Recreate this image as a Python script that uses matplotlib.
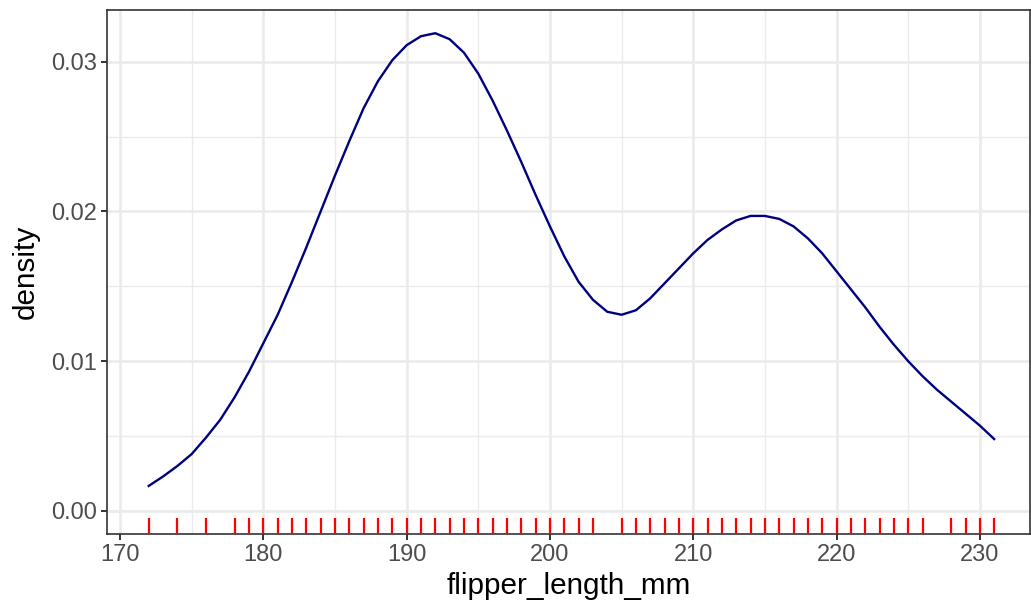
import matplotlib
matplotlib.use("Agg")
import matplotlib.pyplot as plt
from matplotlib.ticker import MultipleLocator

# density curve (flipper_length_mm, density)
flipper = list(range(172, 232))
density = [0.00167, 0.0023, 0.0030, 0.0038, 0.0049, 0.0061, 0.0076, 0.0093,
           0.0112, 0.0131, 0.0153, 0.0176, 0.0200, 0.0224, 0.0247, 0.0269,
           0.0287, 0.0301, 0.0311, 0.0317, 0.0319, 0.0315, 0.0306, 0.0292,
           0.0274, 0.0254, 0.0233, 0.0211, 0.0190, 0.0170, 0.0153, 0.0141,
           0.0133, 0.0131, 0.0134, 0.0142, 0.0152, 0.0162, 0.0172, 0.0181,
           0.0188, 0.0194, 0.0197, 0.0197, 0.0195, 0.0190, 0.0182, 0.0172,
           0.0160, 0.0148, 0.0136, 0.0123, 0.0111, 0.0100, 0.0090, 0.0081,
           0.0073, 0.0065, 0.0057, 0.0048]

# distinct observed values shown in the rug
rug = ([172, 174, 176] + list(range(178, 204)) + list(range(205, 227))
       + [228, 229, 230, 231])

xticks = [170, 180, 190, 200, 210, 220, 230]
yticks = [0.00, 0.01, 0.02, 0.03]
ylabels = ["0.00", "0.01", "0.02", "0.03"]

plt.rcParams['font.family'] = ['Liberation Sans', 'DejaVu Sans']

fig = plt.figure(figsize=(10.31, 6.09), dpi=100)
ax = fig.add_axes([107/1031, 75/609, 923/1031, 524/609])

ax.set_xlim(169.09, 233.5)
ax.set_ylim(-0.00154, 0.03345)

ax.set_xticks(xticks)
ax.set_yticks(yticks)
ax.set_yticklabels(ylabels)
ax.xaxis.set_minor_locator(MultipleLocator(5))
ax.yaxis.set_minor_locator(MultipleLocator(0.005))

ax.grid(which='major', color='#EBEBEB', linewidth=1.9)
ax.grid(which='minor', color='#EBEBEB', linewidth=1.0)
ax.set_axisbelow(True)

ax.plot(flipper, density, color='#000080', linewidth=1.7, zorder=3,
        solid_joinstyle='round')
ax.vlines(rug, 0, 0.03, transform=ax.get_xaxis_transform(),
          color='red', linewidth=1.6, zorder=3)

for s in ax.spines.values():
    s.set_color('#333333')
    s.set_linewidth(1.2)

ax.tick_params(which='major', length=4.5, width=1.4, color='#333333',
               labelsize=17, labelcolor='#4D4D4D', pad=3)
ax.tick_params(which='minor', length=0)

ax.set_xlabel("flipper_length_mm", fontsize=21.4, labelpad=4)
ax.set_ylabel("density", fontsize=21.4, labelpad=8)

fig.savefig("out.png", dpi=100)
